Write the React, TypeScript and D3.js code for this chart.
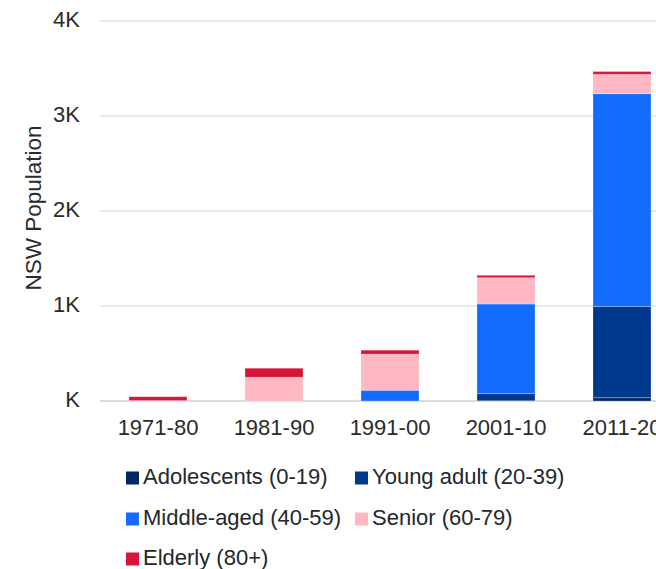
import React from "react";
import * as d3 from "d3";

const categories = ["1971-80", "1981-90", "1991-00", "2001-10", "2011-20"];
const seriesNames = [
  "Adolescents (0-19)",
  "Young adult (20-39)",
  "Middle-aged (40-59)",
  "Senior (60-79)",
  "Elderly (80+)",
];
const adolescents = [0, 0, 0, 3, 35];
const youngAdult = [0, 0, 0, 75, 960];
const middleAged = [0, 0, 113, 943, 2240];
const senior = [5, 250, 380, 277, 203];
const elderly = [40, 95, 42, 25, 30];
const yTickValues = [0, 1000, 2000, 3000, 4000];
const yTickLabels = ["K", "1K", "2K", "3K", "4K"];
const colors = ["#002664", "#00388C", "#146CFD", "#FFB8C1", "#D7153A"];

const W = 656;
const H = 569;
const axisFont = "'Liberation Sans', Arial, sans-serif";
const legendFont = "'Liberation Sans', Arial, sans-serif";

export default function App() {
  const keys = ["a", "y", "m", "s", "e"];
  const rows = categories.map((c, i) => ({
    cat: c,
    a: adolescents[i],
    y: youngAdult[i],
    m: middleAged[i],
    s: senior[i],
    e: elderly[i],
  }));
  const stacked = d3.stack<any>().keys(keys)(rows);

  const x = d3
    .scaleBand<string>()
    .domain(categories)
    .range([100, 680])
    .paddingInner(0.5)
    .paddingOuter(0.25);
  const y = d3.scaleLinear().domain([0, 4000]).range([401, 21]);

  const legendPos = [
    [126, 478],
    [355, 478],
    [126, 519],
    [355, 519],
    [126, 559],
  ];

  return (
    <svg
      width={W}
      height={H}
      style={{ position: "absolute", left: 0, top: 0, background: "#fff" }}
    >
      {yTickValues.map((v, i) => (
        <g key={v}>
          <line
            x1={100}
            x2={W}
            y1={y(v)}
            y2={y(v)}
            stroke={v === 0 ? "#d9dcdf" : "#e1e3e6"}
            strokeWidth={v === 0 ? 2 : 1.5}
          />
          <text
            x={80}
            y={y(v)}
            textAnchor="end"
            dominantBaseline="middle"
            fontFamily={axisFont}
            fontSize={22}
            fill="#2b2b2b"
          >
            {yTickLabels[i]}
          </text>
        </g>
      ))}
      <text
        transform={`translate(41,208) rotate(-90)`}
        textAnchor="middle"
        fontFamily={axisFont}
        fontSize={22.5}
        fill="#2b2b2b"
      >
        NSW Population
      </text>
      {stacked.map((layer, li) => (
        <g key={layer.key} fill={colors[li]}>
          {layer.map((d, i) => {
            const h = y(d[0]) - y(d[1]);
            if (h <= 0) return null;
            return (
              <rect
                key={i}
                x={x(categories[i])}
                y={y(d[1])}
                width={x.bandwidth()}
                height={h}
                stroke="rgba(255,255,255,0.25)"
                strokeWidth={1}
              />
            );
          })}
        </g>
      ))}
      {categories.map((c) => (
        <text
          key={c}
          x={(x(c) as number) + x.bandwidth() / 2}
          y={429}
          textAnchor="middle"
          dominantBaseline="middle"
          fontFamily={axisFont}
          fontSize={22}
          fill="#2b2b2b"
        >
          {c}
        </text>
      ))}
      {seriesNames.map((n, i) => (
        <g key={n} transform={`translate(${legendPos[i][0]},${legendPos[i][1]})`}>
          <rect x={0} y={-6.5} width={13} height={13} fill={colors[i]} />
          <text
            x={17}
            y={0}
            dominantBaseline="middle"
            fontFamily={legendFont}
            fontSize={22}
            fill="#22272b"
          >
            {n}
          </text>
        </g>
      ))}
    </svg>
  );
}
